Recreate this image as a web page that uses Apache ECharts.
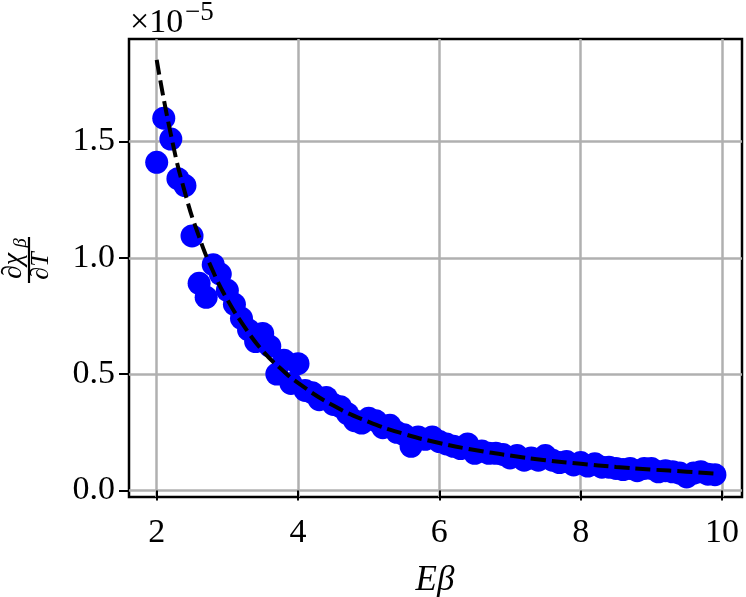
<!DOCTYPE html>
<html>
<head>
<meta charset="utf-8">
<script src="https://cdn.jsdelivr.net/npm/echarts@6/dist/echarts.min.js"></script>
<style>html,body{margin:0;padding:0;background:#fff;}#c{width:746px;height:597px;}</style>
</head>
<body>
<div id="c"></div>
<script>
// Data (y values in units of 1e-5)
var xPoints = [2.0,2.1,2.2,2.3,2.4,2.5,2.6,2.7,2.8,2.9,3.0,3.1,3.2,3.3,3.4,3.5,3.6,3.7,3.8,3.9,
  4.0,4.1,4.2,4.3,4.4,4.5,4.6,4.7,4.8,4.9,5.0,5.1,5.2,5.3,5.4,5.5,5.6,5.7,5.8,5.9,
  6.0,6.1,6.2,6.3,6.4,6.5,6.6,6.7,6.8,6.9,7.0,7.1,7.2,7.3,7.4,7.5,7.6,7.7,7.8,7.9,
  8.0,8.1,8.2,8.3,8.4,8.5,8.6,8.7,8.8,8.9,9.0,9.1,9.2,9.3,9.4,9.5,9.6,9.7,9.8,9.9];
var yPoints = [1.41,1.60,1.51,1.34,1.31,1.094,0.89,0.83,0.97,0.93,0.86,0.80,0.74,0.69,0.64,0.675,0.62,0.50,0.56,0.46,
  0.545,0.43,0.42,0.39,0.40,0.37,0.36,0.33,0.30,0.29,0.31,0.30,0.27,0.28,0.25,0.24,0.19,0.23,0.22,0.23,
  0.21,0.20,0.19,0.18,0.20,0.16,0.17,0.16,0.16,0.155,0.14,0.15,0.13,0.14,0.13,0.15,0.13,0.12,0.125,0.11,
  0.12,0.105,0.115,0.10,0.10,0.095,0.09,0.095,0.085,0.095,0.095,0.08,0.085,0.08,0.075,0.058,0.075,0.08,0.07,0.068];
var xFit = [2.0,2.2,2.4,2.6,2.8,3.0,3.25,3.5,3.75,4.0,4.5,5.0,5.5,6.0,6.5,7.0,7.5,8.0,8.5,9.0,9.5,9.9];
var yFit = [1.85,1.53,1.28,1.09,0.94,0.82,0.70,0.60,0.525,0.462,0.365,0.295,0.243,0.204,0.174,0.150,0.130,0.115,0.101,0.090,0.081,0.073];
var xTicks = [2,4,6,8,10];
var yTicks = [0.0,0.5,1.0,1.5];

var scatterData = xPoints.map(function(x,i){return [x,yPoints[i]];});
var fitData = xFit.map(function(x,i){return [x,yFit[i]];});

var FONT = 'Liberation Serif';
var chart = echarts.init(document.getElementById('c'), null, {renderer:'canvas'});
chart.setOption({
  animation:false,
  backgroundColor:'#ffffff',
  grid:{left:129, top:39, width:613, height:458, show:true, borderColor:'#000', borderWidth:2.5, backgroundColor:'transparent'},
  xAxis:{
    type:'value', min:1.608, max:10.283,
    axisLine:{show:false},
    axisTick:{show:true, customValues:xTicks, length:10, lineStyle:{color:'#000', width:2}},
    axisLabel:{customValues:xTicks, margin:19, color:'#000', fontFamily:FONT, fontSize:34,
      formatter:function(v){return String(v);}},
    splitLine:{show:true, lineStyle:{color:'#b0b0b0', width:2.5}}
  },
  yAxis:{
    type:'value', min:-0.028, max:1.94,
    axisLine:{show:false},
    axisTick:{show:true, customValues:yTicks, length:10, lineStyle:{color:'#000', width:2}},
    axisLabel:{customValues:yTicks, margin:14, color:'#000', fontFamily:FONT, fontSize:34,
      formatter:function(v){return v.toFixed(1);}},
    splitLine:{show:true, lineStyle:{color:'#b0b0b0', width:2.5}}
  },
  series:[
    {type:'scatter', data:scatterData, symbol:'circle', symbolSize:23,
     itemStyle:{color:'#0000ff', opacity:1}, z:2},
    {type:'line', data:fitData, smooth:true, showSymbol:false, symbol:'none',
     lineStyle:{color:'#000', width:4, type:[15,6]}, z:3}
  ],
  graphic:[
    {type:'text', x:130, y:40, style:{text:'×10', fontFamily:FONT, fontSize:34, fill:'#000', verticalAlign:'bottom'}},
    {type:'text', x:185, y:26, style:{text:'−5', fontFamily:FONT, fontSize:27, fill:'#000', verticalAlign:'bottom'}},
    {type:'text', x:435, y:581, style:{text:'Eβ', fontFamily:FONT, fontStyle:'italic', fontSize:35, fill:'#000', align:'center', verticalAlign:'middle'}},
    {type:'group', x:29, y:260, rotation:Math.PI/2, children:[
      {type:'text', x:-6, y:-15, style:{text:'∂χ', fontFamily:FONT, fontStyle:'italic', fontSize:28, fill:'#000', align:'center', verticalAlign:'middle'}},
      {type:'text', x:17, y:-8, style:{text:'β', fontFamily:FONT, fontStyle:'italic', fontSize:19, fill:'#000', align:'center', verticalAlign:'middle'}},
      {type:'line', shape:{x1:-23,y1:0,x2:23,y2:0}, style:{stroke:'#000', lineWidth:2.2}},
      {type:'text', x:-6, y:12, style:{text:'∂T', fontFamily:FONT, fontStyle:'italic', fontSize:26, fill:'#000', align:'center', verticalAlign:'middle'}}
    ]}
  ]
});
</script>
</body>
</html>
